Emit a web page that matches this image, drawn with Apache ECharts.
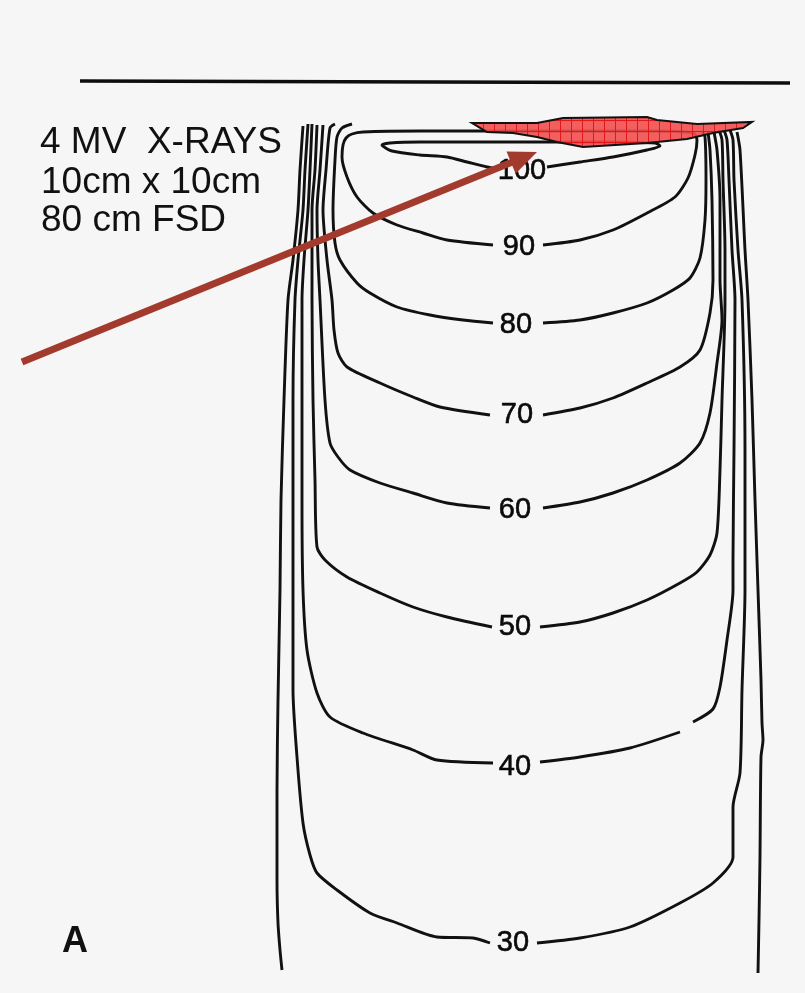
<!DOCTYPE html>
<html>
<head>
<meta charset="utf-8">
<script src="https://cdn.jsdelivr.net/npm/echarts@6/dist/echarts.min.js"></script>
<style>html,body{margin:0;padding:0;background:#f6f6f6}#c{width:805px;height:993px}</style>
</head>
<body>
<div id="c"></div>
<script>
// ---- data (image units: x across, y = depth downward) ----
const surfaceLine = [[80, 81], [790, 83]];

const isoOuterL = [[303,126],[300,170],[298,210],[293,260],[288,300],[284,400],[281,500],[280,590],[278,700],[277,790],[277,880],[278,923],[280,950],[282,970]];
const isoOuterR = [[737,132],[740,150],[745,250],[748,300],[752,400],[755,500],[758,590],[761,680],[762,723],[763,740],[761,757],[760,857],[759,920],[758,973]];

const iso30 = [[308,124],[305,170],[303,210],[298,260],[295,300],[293,400],[293,500],[293,590],[293,690],[297,757],[303,823],[310,855],[317,873],[337,890],[370,913],[397,923],[437,937],[473,938],[490,943],null,
  [537,943],[580,938],[630,927],[680,903],[713,883],[733,857],[733,807],[740,773],[742,690],[745,590],[745,450],[742,300],[738,250],[734,180],[733,140],[730,130]];
const iso40 = [[312,124],[310,170],[308,210],[304,260],[302,300],[302,400],[302,500],[303,590],[307,650],[317,693],[330,717],[363,733],[413,750],[437,760],[493,763],null,
  [540,762],[580,757],[630,748],[680,732],null,[693,722],[713,709],[720,687],[727,640],[733,590],[733,560],[734,450],[735,300],[732,250],[729,180],[727,140],[724,130]];
const iso50 = [[317,125],[315,170],[312,210],[312,300],[313,400],[315,480],[317,547],[325,560],[347,577],[380,593],[413,607],[447,617],[492,627],null,
  [540,627],[580,622],[613,613],[647,600],[680,583],[697,572],[710,555],[717,533],[720,470],[722,400],[725,300],[725,250],[723,180],[722,140],[719,130]];
const iso60 = [[323,125],[320,170],[317,210],[318,260],[320,300],[325,400],[330,443],[338,457],[350,470],[380,483],[413,493],[447,503],[490,508],null,
  [543,508],[580,502],[613,493],[647,480],[680,463],[700,443],[710,413],[717,363],[722,320],[720,280],[720,200],[717,150],[714,132]];
const iso70 = [[335,124],[330,128],[326,170],[323,210],[327,260],[332,300],[334,330],[338,353],[347,367],[380,383],[413,397],[440,407],[490,415],null,
  [543,415],[580,408],[613,398],[647,383],[680,367],[700,350],[710,313],[713,280],[712,200],[710,150],[708,132]];
const iso80 = [[352,124],[342,128],[337,137],[335,160],[333,210],[335,243],[340,260],[357,283],[370,293],[397,307],[430,315],[463,320],[493,323],null,
  [543,323],[580,320],[613,313],[647,303],[673,290],[690,278],[700,258],[705,220],[706,180],[705,137],[702,131]];
const iso90 = [[543,245],[580,240],[613,230],[647,213],[675,197],[688,178],[695,155],[697,140],[693,133],[650,131],[600,131],[530,131],[480,131],[420,131],[363,132],[352,134],[346,138],[343,145],[342,157],[347,177],[357,197],[373,213],[397,225],[423,233],[447,240],[493,245]];
const iso100 = [[547,167],[580,162],[613,157],[647,150],[660,146],[655,143],[600,142],[540,142],[480,142],[420,142],[390,143],[382,145],[392,151],[420,155],[447,157],[467,162],[487,167],[497,169]];

const levels = ['100', '90', '80', '70', '60', '50', '40', '30'];
const labelX = [522, 519, 516, 517, 515, 515, 515, 513];
const labelY = [171, 247, 325, 415, 510, 627, 767, 943];

const redPatch = [[472,123],[537,123],[563,118],[647,117],[657,120],[697,124],[752,122],[743,128],[713,133],[687,139],[647,143],[583,147],[557,142],[537,137],[513,133],[487,132]];
const arrowLine = [[22,362],[537,152]];

const titleLines = ['4 MV  X-RAYS', '10cm x 10cm', '80 cm FSD'];
const panelLetter = 'A';

// ---- chart ----
function segments(arr) {
  const segs = [[]];
  arr.forEach(p => { if (p === null) segs.push([]); else segs[segs.length - 1].push(p); });
  return segs.filter(s => s.length > 1);
}

const contours = [isoOuterL, isoOuterR, iso30, iso40, iso50, iso60, iso70, iso80, iso90, iso100];
const series = [];
series.push({
  type: 'line', data: surfaceLine, symbol: 'none', silent: true,
  lineStyle: { color: '#0d0d0d', width: 3.4 }, z: 2
});
contours.forEach(c => {
  segments(c).forEach(seg => {
    series.push({
      type: 'line', data: seg, symbol: 'none', smooth: 0.25, silent: true,
      lineStyle: { color: '#111', width: 2.9 }, z: 2
    });
  });
});

series.push({
  type: 'scatter', symbolSize: 1, silent: true, z: 3,
  itemStyle: { color: '#f6f6f6', opacity: 1 },
  data: labelX.map((x, i) => [x, labelY[i], levels[i]]),
  label: {
    show: true, position: 'inside', formatter: p => p.value[2], opacity: 1,
    color: '#0a0a0a', textBorderWidth: 0.6, textBorderColor: '#0a0a0a',
    fontSize: 29, fontFamily: 'Liberation Sans'
  }
});

// grid-pattern fill for the red patch
const pc = document.createElement('canvas');
pc.width = 11; pc.height = 11;
const g = pc.getContext('2d');
g.fillStyle = 'rgba(243,78,78,0.9)';
g.fillRect(0, 0, 11, 11);
g.fillStyle = 'rgba(225,20,20,0.95)';
g.fillRect(10, 0, 1, 11);
g.fillRect(0, 10, 11, 1);

series.push({
  type: 'custom', coordinateSystem: 'cartesian2d', silent: true, z: 5,
  data: [[0, 0]],
  renderItem: (params, api) => ({
    type: 'polygon',
    shape: { points: redPatch.map(p => api.coord(p)) },
    style: { fill: { image: pc, repeat: 'repeat' }, stroke: '#111', lineWidth: 2 }
  })
});

series.push({
  type: 'custom', coordinateSystem: 'cartesian2d', silent: true, z: 6,
  data: [[0, 0]],
  renderItem: (params, api) => {
    const a = api.coord(arrowLine[0]), b = api.coord(arrowLine[1]);
    const dx = b[0] - a[0], dy = b[1] - a[1], L = Math.hypot(dx, dy);
    const ux = dx / L, uy = dy / L, px = -uy, py = ux;
    const hl = 28, hw = 12;
    const bx = b[0] - ux * hl, by = b[1] - uy * hl;
    const col = '#a23a2e';
    return {
      type: 'group', children: [
        { type: 'line', shape: { x1: a[0], y1: a[1], x2: bx + ux * 2, y2: by + uy * 2 }, style: { stroke: col, lineWidth: 7 } },
        { type: 'polygon', shape: { points: [[b[0], b[1]], [bx + px * hw, by + py * hw], [bx - px * hw, by - py * hw]] }, style: { fill: col } }
      ]
    };
  }
});

const chart = echarts.init(document.getElementById('c'), null, { renderer: 'canvas' });
chart.setOption({
  backgroundColor: '#f6f6f6',
  animation: false,
  grid: { left: 0, right: 0, top: 0, bottom: 0 },
  xAxis: { type: 'value', min: 0, max: 805, show: false },
  yAxis: { type: 'value', min: 0, max: 993, inverse: true, show: false },
  graphic: [
    { type: 'text', style: { x: 40, y: 143, text: titleLines[0], font: '37px "Liberation Sans"', fill: '#111', verticalAlign: 'middle' } },
    { type: 'text', style: { x: 41, y: 183, text: titleLines[1], font: '37px "Liberation Sans"', fill: '#111', verticalAlign: 'middle' } },
    { type: 'text', style: { x: 41, y: 221, text: titleLines[2], font: '37px "Liberation Sans"', fill: '#111', verticalAlign: 'middle' } },
    { type: 'text', style: { x: 62, y: 942, text: panelLetter, font: 'bold 36px "Liberation Sans"', fill: '#111', verticalAlign: 'middle' } }
  ],
  series: series
});
</script>
</body>
</html>
